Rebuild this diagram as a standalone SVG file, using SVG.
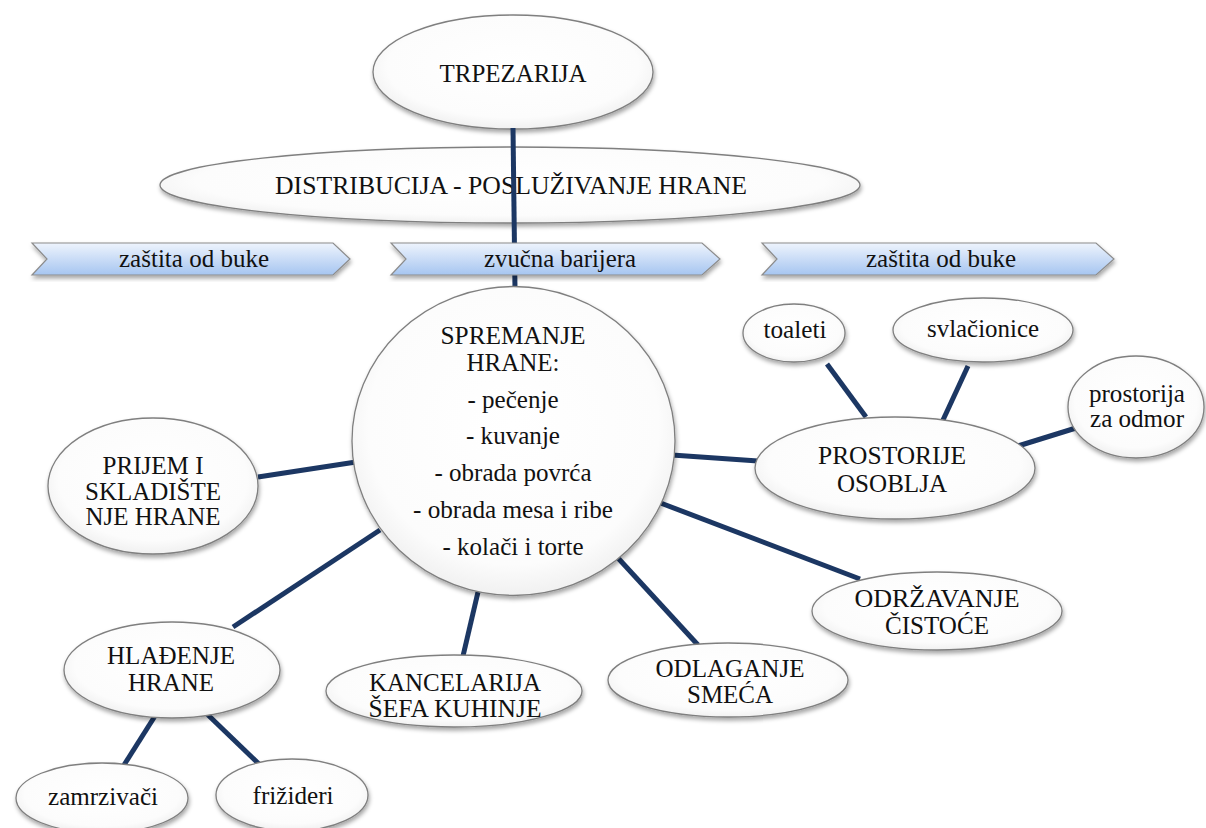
<svg xmlns="http://www.w3.org/2000/svg" width="1206" height="828" viewBox="0 0 1206 828">
  <defs>
    <radialGradient id="bubble" cx="50%" cy="45%" r="60%">
      <stop offset="0%" stop-color="#ffffff"/>
      <stop offset="75%" stop-color="#fcfcfc"/>
      <stop offset="100%" stop-color="#ebebeb"/>
    </radialGradient>
    <linearGradient id="band" x1="0" y1="0" x2="0" y2="1">
      <stop offset="0%" stop-color="#eef4fd"/>
      <stop offset="100%" stop-color="#a6c5f0"/>
    </linearGradient>
    <filter id="shadow" x="-10%" y="-10%" width="120%" height="130%">
      <feDropShadow dx="1" dy="3" stdDeviation="2" flood-color="#000" flood-opacity="0.35"/>
    </filter>
  </defs>
  <style>
    .node { fill: url(#bubble); stroke: #7f7f7f; stroke-width: 1.3; filter: url(#shadow); }
    .chev { fill: url(#band); stroke: #8c8c8c; stroke-width: 1.2; filter: url(#shadow); }
    /* serif labels; every label carries its own fixed width */
    .lbl { font-family: "Liberation Serif", "DejaVu Serif", serif; font-size: 26px; fill: #111; text-anchor: middle; }
    .link { stroke: #1c3763; stroke-width: 5; fill: none; }
  </style>
  <rect width="1206" height="828" fill="#ffffff"/>

  <g id="trpezarija">
    <ellipse class="node" cx="513" cy="72" rx="140" ry="57"/>
    <text class="lbl" x="513" y="82" textLength="147" lengthAdjust="spacingAndGlyphs">TRPEZARIJA</text>
  </g>

  <g id="distribucija">
    <ellipse class="node" cx="510" cy="185" rx="350" ry="38"/>
    <text class="lbl" x="511" y="194" textLength="472" lengthAdjust="spacingAndGlyphs">DISTRIBUCIJA - POSLUŽIVANJE HRANE</text>
  </g>

  <g id="connectors">
    <line class="link" x1="513" y1="128" x2="515" y2="290"/>
    <line class="link" x1="258" y1="477" x2="356" y2="462"/>
    <line class="link" x1="380" y1="530" x2="233" y2="627"/>
    <line class="link" x1="478" y1="592" x2="463" y2="656"/>
    <line class="link" x1="618" y1="558" x2="698" y2="645"/>
    <line class="link" x1="658" y1="502" x2="860" y2="579"/>
    <line class="link" x1="672" y1="455" x2="758" y2="461"/>
    <line class="link" x1="827" y1="364" x2="866" y2="417"/>
    <line class="link" x1="968" y1="366" x2="943" y2="420"/>
    <line class="link" x1="1076" y1="428" x2="1018" y2="446"/>
    <line class="link" x1="155" y1="716" x2="124" y2="765"/>
    <line class="link" x1="207" y1="714" x2="259" y2="764"/>
  </g>

  <g id="band-left">
    <polygon class="chev" points="32,243 333,243 350,259 333,275 32,275 47,259"/>
    <text class="lbl" x="194" y="267" textLength="150" lengthAdjust="spacingAndGlyphs">zaštita od buke</text>
  </g>
  <g id="band-middle">
    <polygon class="chev" points="391,243 702,243 720,259 702,275 391,275 406,259"/>
    <text class="lbl" x="560" y="267" textLength="152" lengthAdjust="spacingAndGlyphs">zvučna barijera</text>
  </g>
  <g id="band-right">
    <polygon class="chev" points="762,243 1096,243 1114,259 1096,275 762,275 777,259"/>
    <text class="lbl" x="941" y="267" textLength="150" lengthAdjust="spacingAndGlyphs">zaštita od buke</text>
  </g>

  <g id="spremanje">
    <ellipse class="node" cx="513.5" cy="441" rx="161.5" ry="154.5"/>
    <text class="lbl" x="513" y="344" textLength="145" lengthAdjust="spacingAndGlyphs">SPREMANJE</text>
    <text class="lbl" x="513" y="371" textLength="93" lengthAdjust="spacingAndGlyphs">HRANE:</text>
    <text class="lbl" x="513" y="408" textLength="91" lengthAdjust="spacingAndGlyphs">- pečenje</text>
    <text class="lbl" x="513" y="444" textLength="94" lengthAdjust="spacingAndGlyphs">- kuvanje</text>
    <text class="lbl" x="513" y="481" textLength="157" lengthAdjust="spacingAndGlyphs">- obrada povrća</text>
    <text class="lbl" x="513" y="518" textLength="200" lengthAdjust="spacingAndGlyphs">- obrada mesa i ribe</text>
    <text class="lbl" x="513" y="555" textLength="141" lengthAdjust="spacingAndGlyphs">- kolači i torte</text>
  </g>

  <g id="prijem">
    <ellipse class="node" cx="153" cy="486" rx="105" ry="68"/>
    <text class="lbl" x="153" y="474" textLength="101" lengthAdjust="spacingAndGlyphs">PRIJEM I</text>
    <text class="lbl" x="153" y="500" textLength="136" lengthAdjust="spacingAndGlyphs">SKLADIŠTE</text>
    <text class="lbl" x="153" y="525" textLength="135" lengthAdjust="spacingAndGlyphs">NJE HRANE</text>
  </g>

  <g id="hladjenje">
    <ellipse class="node" cx="172" cy="670" rx="108" ry="48"/>
    <text class="lbl" x="171" y="664" textLength="128" lengthAdjust="spacingAndGlyphs">HLAĐENJE</text>
    <text class="lbl" x="171" y="691" textLength="86" lengthAdjust="spacingAndGlyphs">HRANE</text>
  </g>

  <g id="zamrzivaci">
    <ellipse class="node" cx="102" cy="798" rx="86" ry="35"/>
    <text class="lbl" x="103" y="805" textLength="110" lengthAdjust="spacingAndGlyphs">zamrzivači</text>
  </g>

  <g id="frizideri">
    <ellipse class="node" cx="292" cy="795" rx="76" ry="36"/>
    <text class="lbl" x="293" y="804" textLength="81" lengthAdjust="spacingAndGlyphs">frižideri</text>
  </g>

  <g id="kancelarija">
    <ellipse class="node" cx="454" cy="691" rx="128" ry="36"/>
    <text class="lbl" x="455" y="691" textLength="172" lengthAdjust="spacingAndGlyphs">KANCELARIJA</text>
    <text class="lbl" x="455" y="717" textLength="173" lengthAdjust="spacingAndGlyphs">ŠEFA KUHINJE</text>
  </g>

  <g id="smece">
    <ellipse class="node" cx="728" cy="680" rx="120" ry="37"/>
    <text class="lbl" x="730" y="677" textLength="149" lengthAdjust="spacingAndGlyphs">ODLAGANJE</text>
    <text class="lbl" x="730" y="703" textLength="86" lengthAdjust="spacingAndGlyphs">SMEĆA</text>
  </g>

  <g id="cistoca">
    <ellipse class="node" cx="937" cy="611" rx="125" ry="39"/>
    <text class="lbl" x="937" y="607" textLength="165" lengthAdjust="spacingAndGlyphs">ODRŽAVANJE</text>
    <text class="lbl" x="937" y="634" textLength="104" lengthAdjust="spacingAndGlyphs">ČISTOĆE</text>
  </g>

  <g id="osoblje">
    <ellipse class="node" cx="895" cy="468" rx="140" ry="51"/>
    <text class="lbl" x="892" y="464" textLength="148" lengthAdjust="spacingAndGlyphs">PROSTORIJE</text>
    <text class="lbl" x="892" y="492" textLength="110" lengthAdjust="spacingAndGlyphs">OSOBLJA</text>
  </g>

  <g id="toaleti">
    <ellipse class="node" cx="794" cy="333" rx="51" ry="29"/>
    <text class="lbl" x="795" y="338" textLength="63" lengthAdjust="spacingAndGlyphs">toaleti</text>
  </g>

  <g id="svlacionice">
    <ellipse class="node" cx="983" cy="330" rx="90" ry="32"/>
    <text class="lbl" x="983" y="337" textLength="112" lengthAdjust="spacingAndGlyphs">svlačionice</text>
  </g>

  <g id="odmor">
    <ellipse class="node" cx="1136" cy="407" rx="68" ry="51"/>
    <text class="lbl" x="1137" y="402" textLength="96" lengthAdjust="spacingAndGlyphs">prostorija</text>
    <text class="lbl" x="1137" y="427" textLength="94" lengthAdjust="spacingAndGlyphs">za odmor</text>
  </g>
</svg>
